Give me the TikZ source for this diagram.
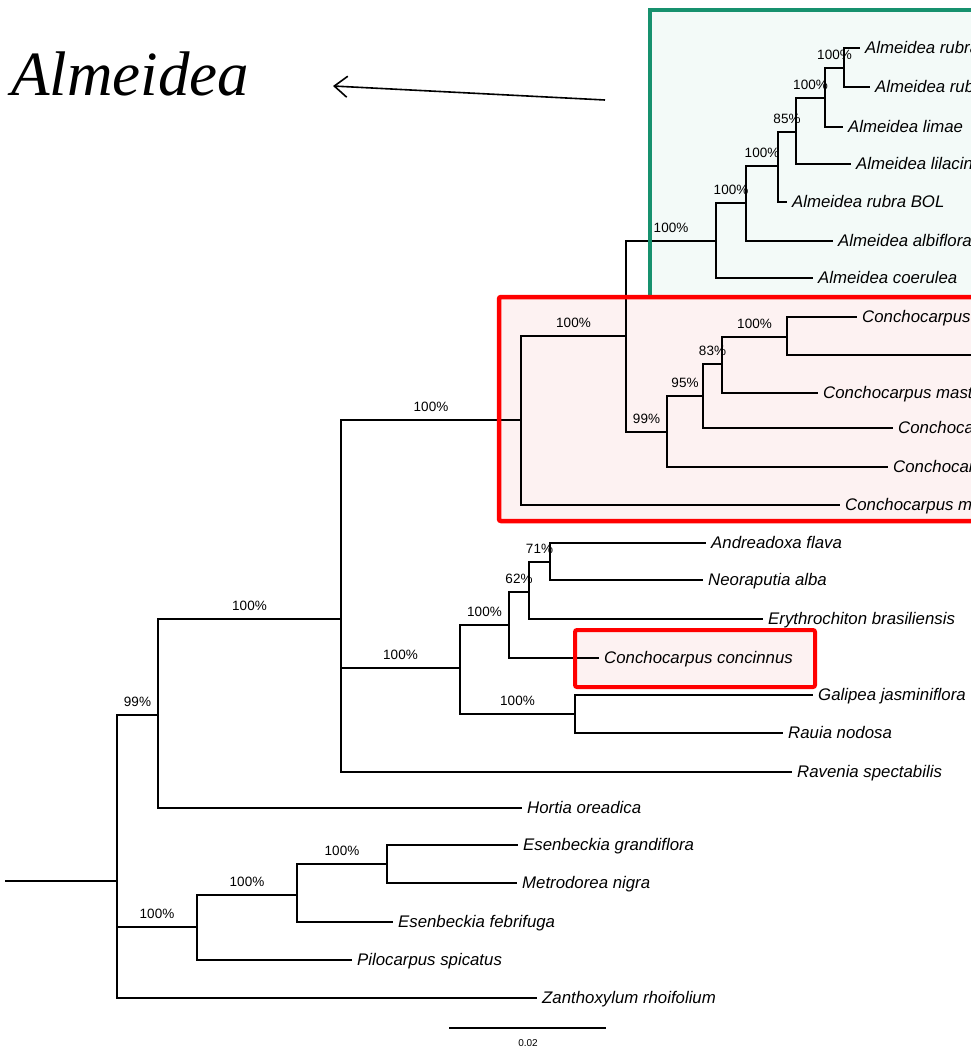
\documentclass[tikz,border=0pt]{standalone}
\usepackage{fontspec}
\setmainfont{Liberation Sans}
\newfontfamily\serifit{Liberation Serif}
\usetikzlibrary{arrows.meta}
\definecolor{grn}{RGB}{22,145,110}
\definecolor{grnfill}{RGB}{243,250,248}
\definecolor{rd}{RGB}{255,0,0}
\definecolor{rdfill}{RGB}{253,242,242}
\begin{document}
\begin{tikzpicture}[x=1pt,y=-1pt,
  br/.style={line width=1.9pt, line join=miter},
  leaf/.style={anchor=west, inner xsep=5pt, inner ysep=0pt, text height=11pt, text depth=0pt,
    font=\fontsize{16.8}{18}\selectfont\itshape},
  sup/.style={pos=0.75, anchor=south, yshift=7pt, inner sep=0pt, font=\fontsize{13.5}{15}\selectfont},
  boxline/.style={line width=4pt}]
\useasboundingbox (0,0) rectangle (971,1052);
\clip (0,0) rectangle (971,1052);

% box fills
\fill[grnfill] (650,10) rectangle (1000,297);
\fill[rdfill] (499,297) rectangle (1000,521);
\fill[rdfill, rounded corners=2pt] (575,630) rectangle (815,687);

% title and arrow
\node[anchor=base west, inner sep=0pt, font=\serifit\fontsize{63}{70}\selectfont\itshape] (alm) at (11,95) {Almeidea};
\coordinate (arrS) at (605,100);
\coordinate (arrT) at (333,86);
\draw[line width=1.6pt, -{Straight Barb[length=13pt,width=21pt,line width=1.6pt]}] (arrS) -- (arrT);

% internal nodes
\coordinate (root) at (5,881);
\coordinate (a) at (117,881);
\coordinate (b) at (158,715);
\coordinate (c) at (341,619);
\coordinate (d) at (521,420);
\coordinate (e) at (626,336);
\coordinate (al1) at (716,241);
\coordinate (al2) at (746,203);
\coordinate (al3) at (778,166);
\coordinate (al4) at (796,132);
\coordinate (al5) at (825,98);
\coordinate (al6) at (844,68);
\coordinate (f) at (667,432);
\coordinate (g) at (703,396);
\coordinate (h) at (722,364);
\coordinate (i) at (787,337);
\coordinate (j) at (460,668);
\coordinate (k) at (509,625);
\coordinate (l) at (529,592);
\coordinate (m) at (550,562);
\coordinate (n) at (575,714);
\coordinate (o) at (197,927);
\coordinate (p) at (297,895);
\coordinate (q) at (387,864);

% leaves
\node[leaf] (L1) at (860,48) {Almeidea rubra};
\node[leaf] (L2) at (870,87) {Almeidea rubra};
\node[leaf] (L3) at (843,127) {Almeidea limae};
\node[leaf] (L4) at (851,164) {Almeidea lilacina};
\node[leaf] (L5) at (787,202) {Almeidea rubra BOL};
\node[leaf] (L6) at (833,241) {Almeidea albiflora};
\node[leaf] (L7) at (813,278) {Almeidea coerulea};
\node[leaf] (L8) at (857,317) {Conchocarpus heterophyllus};
\coordinate (L9) at (1000,355);
\node[leaf] (L10) at (818,393) {Conchocarpus mastigophorus};
\node[leaf] (L11) at (893,428) {Conchocarpus fontanesianus};
\node[leaf] (L12) at (888,467) {Conchocarpus pentandrus};
\node[leaf] (L13) at (840,505) {Conchocarpus macrophyllus};
\node[leaf] (L14) at (706,543) {Andreadoxa flava};
\node[leaf] (L15) at (703,580) {Neoraputia alba};
\node[leaf] (L16) at (763,619) {Erythrochiton brasiliensis};
\node[leaf] (L17) at (599,658) {Conchocarpus concinnus};
\node[leaf] (L18) at (813,695) {Galipea jasminiflora};
\node[leaf] (L19) at (783,733) {Rauia nodosa};
\node[leaf] (L20) at (792,772) {Ravenia spectabilis};
\node[leaf] (L21) at (522,808) {Hortia oreadica};
\node[leaf] (L22) at (518,845) {Esenbeckia grandiflora};
\node[leaf] (L23) at (517,883) {Metrodorea nigra};
\node[leaf] (L24) at (393,922) {Esenbeckia febrifuga};
\node[leaf] (L25) at (352,960) {Pilocarpus spicatus};
\node[leaf] (L26) at (537,998) {Zanthoxylum rhoifolium};

% branches
\draw[br] (root) -- (a);
\draw[br] (a) |- node[sup] {99\%} (b);
\draw[br] (a) |- node[sup] {100\%} (o);
\draw[br] (a) |- (L26.west);
\draw[br] (b) |- node[sup] {100\%} (c);
\draw[br] (b) |- (L21.west);
\draw[br] (c) |- node[sup] {100\%} (d);
\draw[br] (c) |- node[sup] {100\%} (j);
\draw[br] (c) |- (L20.west);
\draw[br] (d) |- node[sup] {100\%} (e);
\draw[br] (d) |- (L13.west);
\draw[br] (e) |- node[sup] {100\%} (al1);
\draw[br] (e) |- node[sup] {99\%} (f);
\draw[br] (al1) |- node[sup] {100\%} (al2);
\draw[br] (al1) |- (L7.west);
\draw[br] (al2) |- node[sup] {100\%} (al3);
\draw[br] (al2) |- (L6.west);
\draw[br] (al3) |- node[sup] {85\%} (al4);
\draw[br] (al3) |- (L5.west);
\draw[br] (al4) |- node[sup] {100\%} (al5);
\draw[br] (al4) |- (L4.west);
\draw[br] (al5) |- node[sup] {100\%} (al6);
\draw[br] (al5) |- (L3.west);
\draw[br] (al6) |- (L1.west);
\draw[br] (al6) |- (L2.west);
\draw[br] (f) |- node[sup] {95\%} (g);
\draw[br] (f) |- (L12.west);
\draw[br] (g) |- node[sup] {83\%} (h);
\draw[br] (g) |- (L11.west);
\draw[br] (h) |- node[sup] {100\%} (i);
\draw[br] (h) |- (L10.west);
\draw[br] (i) |- (L8.west);
\draw[br] (i) |- (L9);
\draw[br] (j) |- node[sup] {100\%} (k);
\draw[br] (j) |- node[sup] {100\%} (n);
\draw[br] (k) |- node[sup] {62\%} (l);
\draw[br] (k) |- (L17.west);
\draw[br] (l) |- node[sup] {71\%} (m);
\draw[br] (l) |- (L16.west);
\draw[br] (m) |- (L14.west);
\draw[br] (m) |- (L15.west);
\draw[br] (n) |- (L18.west);
\draw[br] (n) |- (L19.west);
\draw[br] (o) |- node[sup] {100\%} (p);
\draw[br] (o) |- (L25.west);
\draw[br] (p) |- node[sup] {100\%} (q);
\draw[br] (p) |- (L24.west);
\draw[br] (q) |- (L22.west);
\draw[br] (q) |- (L23.west);

% scale bar
\coordinate (sb1) at (449,1028);
\coordinate (sb2) at (606,1028);
\draw[br] (sb1) -- (sb2);
\node[inner sep=0pt, font=\fontsize{10}{11}\selectfont] (sbl) at (528,1043) {0.02};

% box borders
\draw[grn, boxline] (650,297) -- (650,10) -- (1000,10);
\draw[rd, boxline, line width=4.5pt, rounded corners=2pt] (499,297) rectangle (1000,521);
\draw[rd, boxline, rounded corners=2pt] (575,630) rectangle (815,687);
\end{tikzpicture}
\end{document}
